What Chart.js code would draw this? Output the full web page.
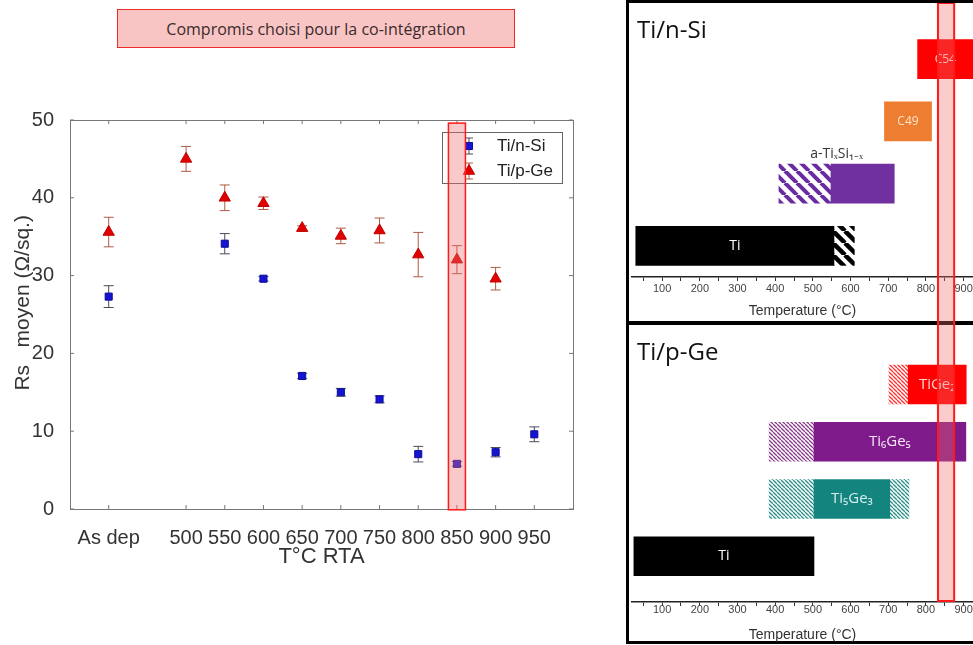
<!DOCTYPE html>
<html>
<head>
<meta charset="utf-8">
<script src="https://cdn.jsdelivr.net/npm/chart.js@4.4.1/dist/chart.umd.min.js"></script>
<style>
  html, body { margin: 0; padding: 0; background: #fff; }
  body { width: 973px; height: 645px; overflow: hidden; position: relative; font-family: "Liberation Sans", Arial, sans-serif; }
  canvas { position: absolute; }
  #banner { position: absolute; left: 117px; top: 9px; width: 396px; height: 37px; background: #f8c4c4; border: 1.5px solid #ee2a2a;
            color: #3b2b2b; font: 16px "Open Sans", sans-serif; display: flex; align-items: center; justify-content: center; }
  .panel { position: absolute; left: 626px; width: 420px; border: 3px solid #000; box-sizing: border-box; }
  #panelSi { top: 0; height: 325px; }
  #panelGe { top: 321px; height: 323px; }
  .ptitle { position: absolute; left: 637px; font: 24px "Open Sans", sans-serif; color: #111; line-height: 1; }
</style>
</head>
<body>
<div class="panel" id="panelSi"></div>
<div class="panel" id="panelGe"></div>
<canvas id="rsChart" width="620" height="600" style="left:0;top:0"></canvas>
<canvas id="siChart" width="380" height="321" style="left:629px;top:3px"></canvas>
<canvas id="geChart" width="380" height="320" style="left:629px;top:324px"></canvas>
<div id="banner">Compromis choisi pour la co-intégration</div>
<div class="ptitle" style="top:17px">Ti/n-Si</div>
<div class="ptitle" style="top:339px">Ti/p-Ge</div>

<script>
// main plot: sheet resistance vs RTA temperature
const tempLabels = ['As dep', '500', '550', '600', '650', '700', '750', '800', '850', '900', '950'];
const tempPos = [400, 500, 550, 600, 650, 700, 750, 800, 850, 900, 950]; // "As dep" placed one slot before 500
const siRs  = [27.3, null, 34.1, 29.6, 17.1, 15.0, 14.1, 7.05, 5.8, 7.3, 9.6];
const siErr = [1.4, null, 1.3, 0.3, 0.35, 0.5, 0.45, 1.0, 0.3, 0.6, 0.95];
const geRs  = [35.6, 45.0, 40.0, 39.3, 36.1, 35.1, 35.8, 32.7, 32.05, 29.6, null];
const geErr = [1.9, 1.6, 1.65, 0.8, 0.3, 1.0, 1.6, 2.85, 1.8, 1.45, null];
const chosenRange = [839, 861];

// phase sequence panels (temperature ranges in °C)
const siPhases = ['Ti', 'a-TiₓSi₁₋ₓ', 'C49', 'C54'];
const siRows = [1, 2, 3, 4];
const siSolid = [[30, 556], [548, 716], [690, 815], [778, 950]];
const siHatch = [[556, 610], [410, 548], null, null];
const siColors = ['#000000', '#7030a0', '#ed7d31', '#ff0000'];

const gePhases = ['Ti', 'Ti₅Ge₃', 'Ti₆Ge₅', 'TiGe₂'];
const geRows = [1, 2, 3, 4];
const geSolid = [[25, 503], [503, 704], [503, 906], [753, 907]];
const geHatch = [null, [384, 503], [384, 503], [702, 753]];
const geHatch2 = [null, [704, 755], null, null];
const geColors = ['#000000', '#14857e', '#7e1a8a', '#ff0000'];

const phaseTicks = [50, 100, 150, 200, 250, 300, 350, 400, 450, 500, 550, 600, 650, 700, 750, 800, 850, 900];
const bandRange = [832, 875];

function stripes(color, p, lw) {
  const c = document.createElement('canvas');
  c.width = p; c.height = p;
  const g = c.getContext('2d');
  g.fillStyle = '#fff'; g.fillRect(0, 0, p, p);
  g.strokeStyle = color; g.lineWidth = lw;
  for (const o of [-p, 0, p]) { g.beginPath(); g.moveTo(o, 0); g.lineTo(o + p, p); g.stroke(); }
  return g.createPattern(c, 'repeat');
}

function pts(vals, errs) {
  return tempPos.map((t, i) => vals[i] == null ? null : { x: t, y: vals[i], err: errs[i] }).filter(Boolean);
}

const errorBars = {
  id: 'errorBars',
  beforeDatasetsDraw(chart) {
    const { ctx, scales: { x, y } } = chart;
    chart.data.datasets.forEach(ds => {
      ctx.save();
      ctx.strokeStyle = ds.errColor; ctx.lineWidth = 1;
      ds.data.forEach(p => {
        const px = x.getPixelForValue(p.x);
        const t = y.getPixelForValue(p.y + p.err), b = y.getPixelForValue(p.y - p.err);
        ctx.beginPath();
        ctx.moveTo(px, t); ctx.lineTo(px, b);
        ctx.moveTo(px - 5, t); ctx.lineTo(px + 5, t);
        ctx.moveTo(px - 5, b); ctx.lineTo(px + 5, b);
        ctx.stroke();
      });
      ctx.restore();
    });
  }
};

const frame = {
  id: 'frame',
  beforeDatasetsDraw(chart) {
    const { ctx, chartArea: a, scales: { x, y } } = chart;
    ctx.save();
    ctx.strokeStyle = '#777'; ctx.lineWidth = 1;
    ctx.strokeRect(a.left + 0.5, a.top + 0.5, a.width, a.height);
    ctx.beginPath();
    tempPos.forEach(v => {
      const px = x.getPixelForValue(v);
      ctx.moveTo(px, a.bottom); ctx.lineTo(px, a.bottom - 4);
      ctx.moveTo(px, a.top); ctx.lineTo(px, a.top + 4);
    });
    y.ticks.forEach(t => {
      const py = y.getPixelForValue(t.value);
      ctx.moveTo(a.left, py); ctx.lineTo(a.left + 4, py);
      ctx.moveTo(a.right, py); ctx.lineTo(a.right - 4, py);
    });
    ctx.stroke();
    ctx.restore();
  }
};

const legendBox = {
  id: 'legendBox',
  afterDatasetsDraw(chart) {
    const ctx = chart.ctx;
    ctx.save();
    ctx.fillStyle = '#fff'; ctx.strokeStyle = '#666'; ctx.lineWidth = 1;
    ctx.fillRect(442, 132, 120, 51); ctx.strokeRect(442.5, 132.5, 120, 51);
    chart.data.datasets.forEach((ds, i) => {
      const cy = 146 + i * 25;
      ctx.strokeStyle = ds.errColor;
      ctx.beginPath(); ctx.moveTo(469, cy - 8); ctx.lineTo(469, cy + 8);
      ctx.moveTo(465, cy - 8); ctx.lineTo(473, cy - 8); ctx.moveTo(465, cy + 8); ctx.lineTo(473, cy + 8); ctx.stroke();
      ctx.fillStyle = ds.backgroundColor; ctx.strokeStyle = ds.borderColor;
      Chart.helpers.drawPoint(ctx, { pointStyle: ds.pointStyle, radius: ds.pointRadius, borderWidth: 1 }, 469, cy);
      ctx.fillStyle = '#222'; ctx.font = '17px "Liberation Sans", Arial, sans-serif';
      ctx.textBaseline = 'middle'; ctx.textAlign = 'left';
      ctx.fillText(ds.label, 497, cy);
    });
    ctx.restore();
  }
};

const chosenBand = {
  id: 'chosenBand',
  afterDraw(chart) {
    const { ctx, scales: { x, y } } = chart;
    const x1 = x.getPixelForValue(chosenRange[0]), x2 = x.getPixelForValue(chosenRange[1]);
    const y1 = y.getPixelForValue(49.6), y2 = y.getPixelForValue(-0.1);
    ctx.save();
    ctx.fillStyle = 'rgba(240,110,110,0.38)';
    ctx.fillRect(x1, y1, x2 - x1, y2 - y1);
    ctx.strokeStyle = '#ff1a1a'; ctx.lineWidth = 1.5;
    ctx.strokeRect(x1, y1, x2 - x1, y2 - y1);
    ctx.restore();
  }
};

new Chart(document.getElementById('rsChart'), {
  type: 'scatter',
  data: {
    datasets: [
      { label: 'Ti/n-Si', data: pts(siRs, siErr), pointStyle: 'rect', pointRadius: 5, borderWidth: 1,
        backgroundColor: '#1414d2', borderColor: '#0c0c9a', errColor: '#4a4a5a' },
      { label: 'Ti/p-Ge', data: pts(geRs, geErr), pointStyle: 'triangle', pointRadius: 6.5, borderWidth: 1,
        backgroundColor: '#e00000', borderColor: '#c00000', errColor: '#b05a44' }
    ]
  },
  options: {
    responsive: false, animation: false,
    layout: { padding: { left: 0, top: 120, right: 47, bottom: 0 } },
    plugins: { legend: { display: false }, tooltip: { enabled: false } },
    scales: {
      x: {
        type: 'linear', min: 350, max: 1000,
        afterBuildTicks: s => { s.ticks = tempPos.map(v => ({ value: v })); },
        afterFit: s => { s.height = 91; },
        ticks: { callback: v => tempLabels[tempPos.indexOf(v)], font: { size: 20 }, color: '#333', padding: 9, maxRotation: 0, autoSkip: false },
        grid: { display: false }, border: { display: false },
        title: { display: true, text: 'T°C RTA', font: { size: 22 }, color: '#333', padding: { top: 0, bottom: 30 } }
      },
      y: {
        min: 0, max: 50,
        afterFit: s => { s.width = 70; },
        ticks: { stepSize: 10, font: { size: 20 }, color: '#333', padding: 8 },
        grid: { display: false }, border: { display: false },
        title: { display: true, text: '    Rs   moyen (Ω/sq.)', font: { size: 21 }, color: '#333', padding: { top: 11 } }
      }
    }
  },
  plugins: [frame, errorBars, legendBox, chosenBand]
});

function phaseChart(id, cfg) {
  const rows = cfg.rows;
  const seg = (ranges, fills) => ({
    data: rows.map((r, k) => ranges[k] ? { y: r, x: ranges[k], k } : null).filter(Boolean),
    backgroundColor: c => fills[c.raw.k],
    grouped: false, barThickness: 39, borderWidth: 0, borderSkipped: false
  });
  const datasets = [seg(cfg.solid, cfg.colors), seg(cfg.hatch, cfg.hatchFills)];
  if (cfg.hatch2) datasets.push(seg(cfg.hatch2, cfg.hatchFills));

  const labels = {
    id: 'phaseLabels',
    afterDatasetsDraw(chart) {
      const { ctx, scales: { x, y } } = chart;
      ctx.save();
      ctx.textAlign = 'center'; ctx.textBaseline = 'middle';
      rows.forEach((r, k) => {
        const s = cfg.solid[k];
        const lo = cfg.above[k] && cfg.hatch[k] ? cfg.hatch[k][0] : s[0];
        const hi = Math.min(s[1], x.max);
        const cx = (x.getPixelForValue(lo) + x.getPixelForValue(hi)) / 2;
        let cy = y.getPixelForValue(r);
        if (cfg.above[k]) cy -= 30;
        ctx.fillStyle = cfg.labelColors[k];
        ctx.font = cfg.labelFonts[k];
        ctx.fillText(cfg.names[k], cx, cy);
      });
      ctx.restore();
    }
  };

  const band = {
    id: 'band',
    afterDraw(chart) {
      const { ctx, scales: { x }, chartArea: a } = chart;
      const x1 = x.getPixelForValue(bandRange[0]), x2 = x.getPixelForValue(bandRange[1]);
      const y1 = cfg.bandToAxis ? -5 : 0;
      const y2 = cfg.bandToAxis ? a.bottom - 1 : chart.height + 5;
      ctx.save();
      ctx.fillStyle = 'rgba(240,110,110,0.35)';
      ctx.fillRect(x1, Math.max(y1, 0), x2 - x1, y2 - Math.max(y1, 0));
      ctx.strokeStyle = '#ff1a1a'; ctx.lineWidth = 2;
      ctx.strokeRect(x1, y1, x2 - x1, y2 - y1);
      ctx.restore();
    }
  };

  return new Chart(document.getElementById(id), {
    type: 'bar',
    data: { datasets },
    options: {
      indexAxis: 'y', responsive: false, animation: false,
      layout: { padding: { left: 3, top: cfg.padTop, right: 36, bottom: 0 } },
      plugins: { legend: { display: false }, tooltip: { enabled: false } },
      scales: {
        x: {
          type: 'linear', min: 20, max: 925,
          afterBuildTicks: s => { s.ticks = phaseTicks.map(v => ({ value: v })); },
          afterFit: s => { s.height = cfg.scaleH; },
          ticks: { callback: v => v % 100 === 0 ? v : '', font: { size: 11 }, color: '#444', padding: cfg.tickPad, maxRotation: 0, autoSkip: false },
          grid: { drawOnChartArea: false, drawTicks: true, tickLength: 4, color: '#333' },
          border: { display: true, color: '#222', width: 1.5 },
          title: { display: true, text: 'Temperature (°C)', font: { size: 14 }, color: '#333', padding: { top: 0, bottom: cfg.titlePad } }
        },
        y: { type: 'linear', display: false, offset: false, min: cfg.yMin, max: cfg.yMax }
      }
    },
    plugins: [labels, band]
  });
}

phaseChart('siChart', {
  rows: siRows, solid: siSolid, hatch: siHatch, colors: siColors,
  hatchFills: [stripes('#000', 12, 4.5), stripes('#6a2aa0', 12, 4), null, null],
  names: siPhases, above: [false, true, false, false],
  labelColors: ['#fff', '#333', '#fde3cc', '#ffd6d6'],
  labelFonts: ['14px "Open Sans"', '14px "Open Sans"', '12px "Open Sans"', '12px "Open Sans"'],
  yMin: 0.5, yMax: 4.87, padTop: 2, scaleH: 47, tickPad: 1, titlePad: 4.6, bandToAxis: false
});

phaseChart('geChart', {
  rows: geRows, solid: geSolid, hatch: geHatch, hatch2: geHatch2, colors: geColors,
  hatchFills: [null, stripes('#2a8f88', 4, 1.3), stripes('#8a3a8a', 4, 1.3), stripes('#ff3030', 4, 1.3)],
  names: gePhases, above: [false, false, false, false],
  labelColors: ['#fff', '#d8eeee', '#f6e6f6', '#ffd6d6'],
  labelFonts: ['14px "Open Sans"', '15px "Open Sans"', '15px "Open Sans"', '15px "Open Sans"'],
  yMin: 0.2, yMax: 5.04, padTop: 1, scaleH: 42, tickPad: -3, titlePad: 0.6, bandToAxis: true
});
</script>
</body>
</html>
